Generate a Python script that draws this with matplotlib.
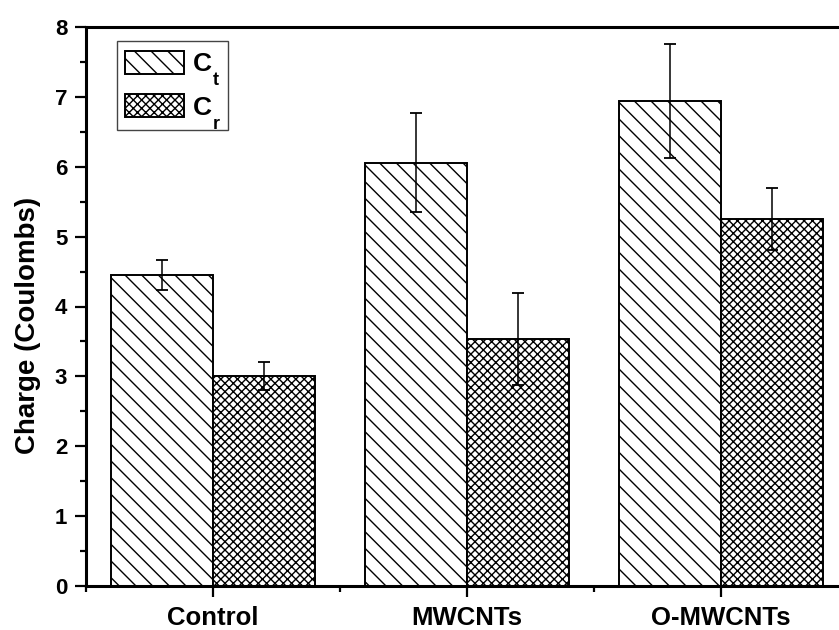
import matplotlib
matplotlib.use("Agg")
import matplotlib.pyplot as plt
import numpy as np
from matplotlib.ticker import MultipleLocator, FixedLocator
from matplotlib.patches import Rectangle

plt.rcParams['font.family'] = ['Liberation Sans', 'DejaVu Sans']
plt.rcParams['font.weight'] = 'bold'
plt.rcParams['hatch.linewidth'] = 1.0

categories = ['Control', 'MWCNTs', 'O-MWCNTs']
ct_values = [4.45, 6.06, 6.94]
ct_errors = [0.21, 0.71, 0.81]
cr_values = [3.01, 3.53, 5.25]
cr_errors = [0.20, 0.66, 0.44]
y_ticks = [0, 1, 2, 3, 4, 5, 6, 7, 8]
legend_main = ['C', 'C']
legend_subs = ['t', 'r']

fig = plt.figure(figsize=(8.39, 6.30), dpi=100)
W, H = 839, 630
left_px, right_px, top_px, bottom_px = 86, 848, 27, 586
ax = fig.add_axes([left_px / W, (H - bottom_px) / H,
                   (right_px - left_px) / W, (bottom_px - top_px) / H])

x = np.arange(1, len(categories) + 1)
bw = 0.4
ax.bar(x - bw / 2, ct_values, bw, color='white', edgecolor='black',
       hatch='\\\\', linewidth=1.4, label=legend_main[0], zorder=2)
ax.bar(x + bw / 2, cr_values, bw, color='white', edgecolor='black',
       hatch='xxxx', linewidth=1.4, label=legend_main[1], zorder=2)
ax.errorbar(x - bw / 2, ct_values, yerr=ct_errors, fmt='none', ecolor='black',
            elinewidth=1.1, capsize=4.3, capthick=1.3, zorder=3)
ax.errorbar(x + bw / 2, cr_values, yerr=cr_errors, fmt='none', ecolor='black',
            elinewidth=1.1, capsize=4.3, capthick=1.3, zorder=3)

ax.set_xlim(0.5, 3.5)
ax.set_ylim(0, 8)
ax.set_xticks(x)
ax.set_xticklabels(categories, fontsize=18.5, fontweight='bold')
ax.xaxis.set_minor_locator(FixedLocator([0.5, 1.5, 2.5, 3.5]))
ax.set_yticks(y_ticks)
ax.set_yticklabels([str(v) for v in y_ticks], fontsize=16, fontweight='bold')
ax.yaxis.set_minor_locator(MultipleLocator(0.5))
ax.tick_params(which='major', direction='out', length=8, width=1.6, pad=5.5)
ax.tick_params(which='minor', direction='out', length=4.5, width=1.6)
ax.tick_params(axis='x', which='major', pad=6.5)
for s in ax.spines.values():
    s.set_linewidth(2.2)

ax.set_ylabel('Charge (Coulombs)', fontsize=20, fontweight='bold', labelpad=10)
ax.yaxis.label.set_y(0.467)

leg = ax.legend(loc='upper left', bbox_to_anchor=((117 - left_px) / (right_px - left_px),
                (bottom_px - 43) / (bottom_px - top_px)),
                prop={'weight': 'bold', 'size': 19}, frameon=False,
                handlelength=2.25, handleheight=0.95, borderpad=0.3,
                labelspacing=0.68, handletextpad=0.32, borderaxespad=0)
fig.canvas.draw()
renderer = fig.canvas.get_renderer()
for txt, sub in zip(leg.get_texts(), legend_subs):
    bb = txt.get_window_extent(renderer)
    _, _, d = renderer.get_text_width_height_descent(
        txt.get_text(), txt.get_fontproperties(), ismath=False)
    base = bb.y0 + d
    fig.text((bb.x1 + 1.0) / W, (base - 9) / H, sub, fontsize=13,
             fontweight='bold', ha='left', va='baseline', zorder=10)
lb = leg.get_window_extent(renderer)
fig.patches.append(Rectangle((lb.x0 / W, (lb.y0 - 2) / H),
                             (lb.width + 8) / W, (lb.height + 4) / H,
                             transform=fig.transFigure, fill=False,
                             edgecolor='#444444', linewidth=1.0, zorder=5))

fig.savefig('out.png', dpi=100)
